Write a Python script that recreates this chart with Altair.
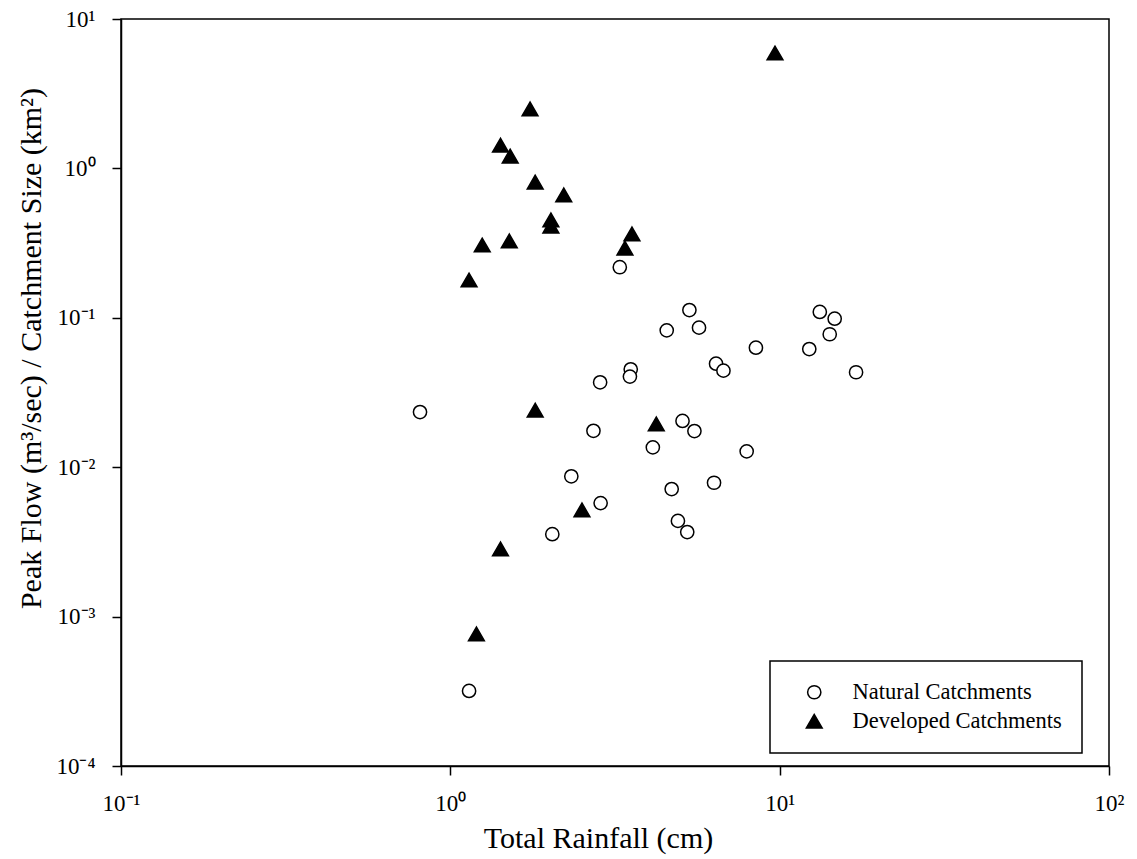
import altair as alt
import pandas as pd

# ---- data ----
natural_rain = [3.27, 5.32, 4.54, 5.69, 8.47, 13.24, 14.69, 14.19, 12.30, 17.06,
                6.41, 6.75, 3.53, 3.51, 2.85, 0.809, 5.07, 5.51, 2.72, 4.12,
                7.94, 2.33, 6.32, 4.70, 2.86, 4.91, 5.24, 2.04, 1.14]
natural_peak = [0.218, 0.1127, 0.0824, 0.0859, 0.0631, 0.1094, 0.0986, 0.0776, 0.0618, 0.0432,
                0.0493, 0.0443, 0.0452, 0.0404, 0.0370, 0.0234, 0.0204, 0.01746, 0.01753, 0.01358,
                0.01277, 0.00869, 0.00787, 0.00714, 0.00575, 0.00437, 0.00368, 0.00356, 0.000318]

developed_rain = [9.68, 1.746, 1.42, 1.52, 1.81, 2.21, 2.02, 2.02, 1.25, 1.51,
                  3.56, 3.39, 1.14, 1.81, 4.22, 2.51, 1.42, 1.20]
developed_peak = [5.92, 2.50, 1.43, 1.21, 0.81, 0.664, 0.452, 0.411, 0.307, 0.327,
                  0.364, 0.293, 0.179, 0.0241, 0.0195, 0.00518, 0.00284, 0.000766]

series_names = ["Natural Catchments", "Developed Catchments"]

x_tick_values = [0.1, 1, 10, 100]
x_tick_labels = ["10\u207b\u00b9", "10\u2070", "10\u00b9", "10\u00b2"]
y_tick_values = [0.0001, 0.001, 0.01, 0.1, 1, 10]
y_tick_labels = ["10\u207b\u2074", "10\u207b\u00b3", "10\u207b\u00b2", "10\u207b\u00b9", "10\u2070", "10\u00b9"]

x_title = "Total Rainfall (cm)"
y_title = "Peak Flow (m\u00b3/sec) / Catchment Size (km\u00b2)"

df = pd.DataFrame({
    "rain": natural_rain + developed_rain,
    "peak": natural_peak + developed_peak,
    "type": [series_names[0]] * len(natural_rain) + [series_names[1]] * len(developed_rain),
})


def label_expr(values, labels):
    expr = "'" + labels[-1] + "'"
    for v, lab in reversed(list(zip(values[:-1], labels[:-1]))):
        thr = v * 10 ** 0.5
        expr = f"datum.value < {thr:.6g} ? '{lab}' : ({expr})"
    return expr


FONT = "Liberation Serif"

points = alt.Chart(df).mark_point(
    filled=True, opacity=1, strokeWidth=1.5
).encode(
    x=alt.X("rain:Q",
            scale=alt.Scale(type="log", domain=[0.1, 100], nice=False),
            axis=alt.Axis(values=x_tick_values, labelExpr=label_expr(x_tick_values, x_tick_labels),
                          title=x_title, titleX=477, titleY=81, titleBaseline="alphabetic",
                          titleAlign="center", labelPadding=17)),
    y=alt.Y("peak:Q",
            scale=alt.Scale(type="log", domain=[0.0001, 10], nice=False),
            axis=alt.Axis(values=y_tick_values, labelExpr=label_expr(y_tick_values, y_tick_labels),
                          title=y_title, titleX=-81, titleY=329, titleBaseline="alphabetic",
                          titleAlign="center", labelPadding=17)),
    shape=alt.Shape("type:N", scale=alt.Scale(domain=series_names, range=["circle", "triangle-up"]),
                    title=None),
    fill=alt.Fill("type:N", scale=alt.Scale(domain=series_names, range=["white", "black"]),
                  title=None),
    stroke=alt.Stroke("type:N", scale=alt.Scale(domain=series_names, range=["black", "black"]),
                      title=None),
    size=alt.Size("type:N", scale=alt.Scale(domain=series_names, range=[175, 250]), title=None),
)

chart = points.properties(
    width=988, height=747,
    autosize=alt.AutoSizeParams(type="none"),
    padding={"left": 121, "top": 19, "right": 28, "bottom": 93},
    background="white",
).configure_view(
    stroke="black", strokeWidth=1.5
).configure_axis(
    grid=False, domainColor="black", domainWidth=1.5, tickColor="black", tickWidth=1.5,
    tickSize=9, labelFont=FONT, labelFontSize=23, labelColor="black", labelFlush=False,
    titleFont=FONT, titleFontSize=30, titleColor="black", titleFontWeight="normal",
    labelOverlap=False,
).configure_legend(
    orient="none", legendX=649, legendY=642, padding=20, strokeColor="black", strokeWidth=1.5,
    labelFont=FONT, labelFontSize=22.5, labelColor="black", symbolOffset=13, labelOffset=27,
    rowPadding=6, labelLimit=400, symbolStrokeWidth=1.5,
)

chart.save("out.html", embed_options={"renderer": "svg", "actions": False})
